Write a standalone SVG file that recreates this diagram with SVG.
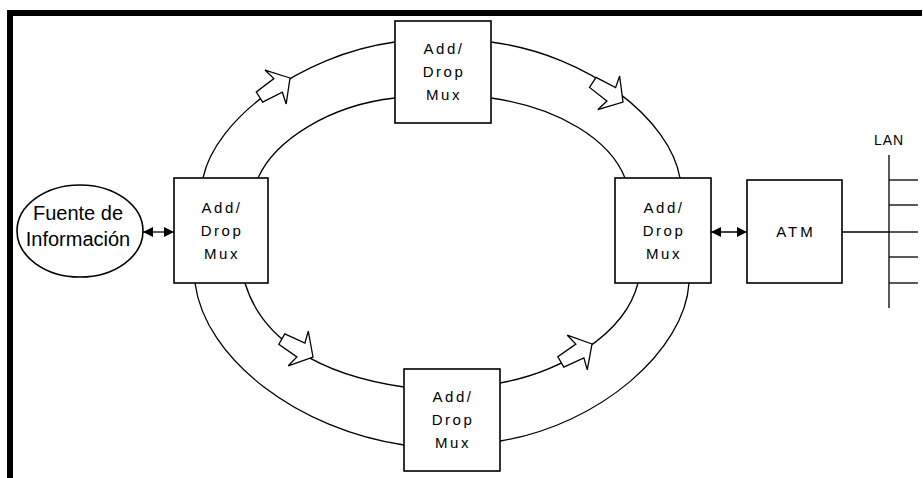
<svg xmlns="http://www.w3.org/2000/svg" xmlns:xlink="http://www.w3.org/1999/xlink" width="923" height="478" viewBox="0 0 923 478">
<style>
.box{fill:#fff;stroke:#000;stroke-width:1.6}
.ln{fill:none;stroke:#000;stroke-width:1.3}
.blk{fill:#fff;stroke:#000;stroke-width:1.3;stroke-linejoin:miter}
.t{font-family:"Liberation Sans",Arial,sans-serif;font-size:15px;letter-spacing:2.5px;text-anchor:middle;fill:#000}
.big{font-family:"Liberation Sans",Arial,sans-serif;font-size:20px;text-anchor:middle;fill:#000}
.lan{font-family:"Liberation Sans",Arial,sans-serif;font-size:14px;letter-spacing:1px;text-anchor:middle;fill:#000}
</style>
<defs>
<marker id="hd" markerUnits="userSpaceOnUse" markerWidth="10" markerHeight="10" refX="10" refY="5" orient="auto-start-reverse">
<path d="M0,0 L10,5 L0,10 z" fill="#000"/>
</marker>
<polygon id="blkarrow" points="0,0 -17,-20 -14,-8 -36,-6 -36,6 -14,8 -17,20"/>
</defs>
<rect width="923" height="478" fill="#fff"/>
<g id="frame">
<rect x="7" y="10" width="6" height="468" fill="#000"/>
<rect x="7" y="10" width="915" height="6" fill="#000"/>
</g>
<g id="connectors">
<path class="ln" d="M203,178 C215,120 300,55 395,42"/>
<path class="ln" d="M258,178 C275,140 330,105 395,98"/>
<path class="ln" d="M491,42 C590,55 670,120 680,178"/>
<path class="ln" d="M491,98 C560,108 610,140 625,178"/>
<path class="ln" d="M195,283 C205,360 300,430 404,445"/>
<path class="ln" d="M245,283 C262,340 320,375 404,387"/>
<path class="ln" d="M500,383 C560,372 625,335 638,283"/>
<path class="ln" d="M500,441 C600,425 685,350 689,283"/>
<use xlink:href="#blkarrow" class="blk" transform="translate(290,78) rotate(-32)"/>
<use xlink:href="#blkarrow" class="blk" transform="translate(623,102) rotate(33)"/>
<use xlink:href="#blkarrow" class="blk" transform="translate(313,357) rotate(30)"/>
<use xlink:href="#blkarrow" class="blk" transform="translate(592,344) rotate(-30)"/>
<line class="ln" x1="143" y1="232" x2="174" y2="232" marker-start="url(#hd)" marker-end="url(#hd)"/>
<line class="ln" x1="711" y1="232" x2="747" y2="232" marker-start="url(#hd)" marker-end="url(#hd)"/>
<line class="ln" x1="842" y1="232" x2="889" y2="232"/>
</g>
<g id="source">
<ellipse class="box" cx="80" cy="231" rx="63" ry="46" stroke-width="1.3"/>
<text class="big" x="78" y="220">Fuente de</text>
<text class="big" x="78" y="246">Información</text>
</g>
<g id="adm-top">
<rect class="box" x="395" y="21" width="96" height="102"/>
<text class="t" x="444" y="54">Add/</text>
<text class="t" x="444" y="77">Drop</text>
<text class="t" x="444" y="100">Mux</text>
</g>
<g id="adm-left">
<rect class="box" x="174" y="178" width="94" height="105"/>
<text class="t" x="222" y="213">Add/</text>
<text class="t" x="222" y="236">Drop</text>
<text class="t" x="222" y="259">Mux</text>
</g>
<g id="adm-right">
<rect class="box" x="615" y="178" width="96" height="105"/>
<text class="t" x="664" y="213">Add/</text>
<text class="t" x="664" y="236">Drop</text>
<text class="t" x="664" y="259">Mux</text>
</g>
<g id="adm-bottom">
<rect class="box" x="404" y="369" width="96" height="102"/>
<text class="t" x="453" y="402">Add/</text>
<text class="t" x="453" y="425">Drop</text>
<text class="t" x="453" y="448">Mux</text>
</g>
<g id="atm">
<rect class="box" x="747" y="180" width="95" height="103"/>
<text class="t" x="796" y="237" style="letter-spacing:3px">ATM</text>
</g>
<g id="lan">
<text class="lan" x="889" y="145">LAN</text>
<line class="ln" x1="889" y1="155" x2="889" y2="308" stroke-width="1.6"/>
<line class="ln" x1="889" y1="180" x2="918" y2="180"/>
<line class="ln" x1="889" y1="205" x2="918" y2="205"/>
<line class="ln" x1="889" y1="232" x2="918" y2="232"/>
<line class="ln" x1="889" y1="257" x2="918" y2="257"/>
<line class="ln" x1="889" y1="283" x2="918" y2="283"/>
</g>
</svg>
